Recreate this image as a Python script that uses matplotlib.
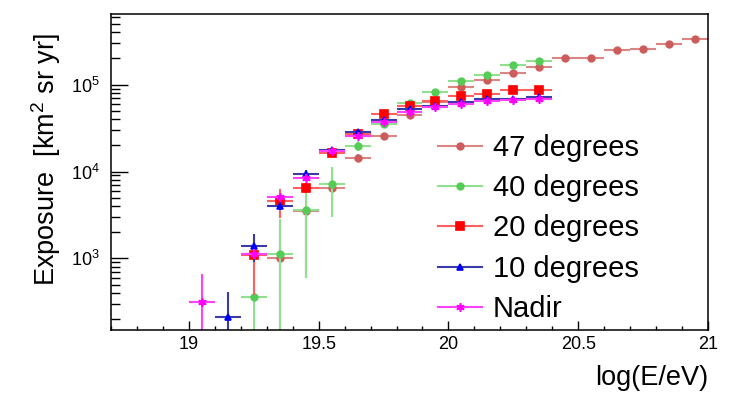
import matplotlib
matplotlib.use("Agg")
import matplotlib.pyplot as plt
import numpy as np
from matplotlib.lines import Line2D
from matplotlib.ticker import MultipleLocator, LogLocator, NullFormatter

plt.rcParams['font.family'] = ['Liberation Sans', 'DejaVu Sans']
plt.rcParams['mathtext.fontset'] = 'custom'
plt.rcParams['mathtext.rm'] = 'Liberation Sans'
plt.rcParams['mathtext.it'] = 'Liberation Sans:italic'
plt.rcParams['mathtext.bf'] = 'Liberation Sans:bold'

# bin half-width in log(E/eV)
bin_half = 0.05

# 47 degrees
x47 = [19.35, 19.45, 19.55, 19.65, 19.75, 19.85, 19.95, 20.05, 20.15, 20.25,
       20.35, 20.45, 20.55, 20.65, 20.75, 20.85, 20.95]
y47 = [1000, 3500, 6400, 14300, 25800, 44800, 63000, 94000, 112000, 137000,
       161000, 201000, 201000, 251000, 256000, 294000, 333000]
e47 = [1700, 2900, 800, 1500, 2000, 2500, 3000, 4000, 4000, 5000,
       5000, 5000, 5000, 6000, 6000, 7000, 7000]

# 40 degrees
x40 = [19.25, 19.35, 19.45, 19.55, 19.65, 19.75, 19.85, 19.95, 20.05, 20.15, 20.25, 20.35]
y40 = [361, 1110, 3600, 7180, 19700, 35500, 61600, 82400, 111000, 128000, 167000, 186000]
e40 = [1000, 1720, 3000, 4200, 2600, 2500, 4000, 5000, 8000, 8000, 9000, 10000]

# 20 degrees
x20 = [19.25, 19.35, 19.45, 19.55, 19.65, 19.75, 19.85, 19.95, 20.05, 20.15, 20.25, 20.35]
y20 = [1083, 4580, 6500, 16200, 27200, 45600, 56800, 64400, 73500, 78100, 86900, 86200]
e20 = [700, 1700, 800, 1200, 1500, 2000, 2000, 2500, 2500, 3000, 3000, 3000]

# 10 degrees
x10 = [19.15, 19.25, 19.35, 19.45, 19.55, 19.65, 19.75, 19.85, 19.95, 20.05, 20.15, 20.25, 20.35]
y10 = [212, 1400, 4040, 9290, 17500, 28700, 39200, 52100, 57300, 62700, 69000, 68400, 72100]
e10 = [194, 490, 400, 1000, 1200, 1500, 1800, 2000, 2200, 2500, 2500, 2500, 2500]

# Nadir
xn = [19.05, 19.25, 19.35, 19.45, 19.55, 19.65, 19.75, 19.85, 19.95, 20.05, 20.15, 20.25, 20.35]
yn = [316, 1130, 5120, 8500, 17000, 25700, 36900, 48900, 55400, 59400, 65500, 66600, 67900]
en = [340, 150, 600, 800, 1200, 1500, 1800, 2000, 2200, 2500, 2500, 2500, 2500]

series = [
    ("47 degrees", x47, y47, e47, '#cd5c5c', '#dc8585', 'o', 4.8),
    ("40 degrees", x40, y40, e40, '#55cc55', '#8fe08f', 'o', 4.8),
    ("20 degrees", x20, y20, e20, '#ff0000', '#ff6060', 's', 5.2),
    ("10 degrees", x10, y10, e10, '#0000ff', '#3a3aa8', '^', 4.8),
    ("Nadir", xn, yn, en, '#ff00ff', '#ff40ff', (6, 2, 0), 6.0),
]

fig = plt.figure(figsize=(7.47, 3.96), dpi=100)
ax = fig.add_axes([111/747, 1-330/396, (708-111)/747, (330-14)/396])

handles = []
for label, xs, ys, es, mcol, ecol, mk, ms in series:
    xs = np.array(xs)
    ys = np.array(ys, dtype=float)
    es = np.array(es, dtype=float)
    lo = np.minimum(es, ys - 1.0)
    ax.errorbar(xs, ys, xerr=bin_half, yerr=[lo, es], fmt='none',
                ecolor=ecol, elinewidth=1.5, capsize=0)
    ax.plot(xs, ys, linestyle='none', marker=mk, color=mcol, markersize=ms,
            markeredgecolor=mcol, markeredgewidth=1.2)
    handles.append(Line2D([], [], color=ecol, lw=1.5, marker=mk, markersize=ms,
                          markerfacecolor=mcol, markeredgecolor=mcol,
                          markeredgewidth=1.2, label=label))

ax.set_xlim(18.7, 21.0)
ax.set_yscale('log')
ax.set_ylim(150, 6.5e5)

ax.xaxis.set_major_locator(MultipleLocator(0.5))
ax.xaxis.set_minor_locator(MultipleLocator(0.1))
ax.yaxis.set_major_locator(LogLocator(base=10))
ax.yaxis.set_minor_locator(LogLocator(base=10, subs=np.arange(2, 10)))
ax.yaxis.set_minor_formatter(NullFormatter())
ax.xaxis.set_major_formatter(matplotlib.ticker.FuncFormatter(lambda v, p: f"{v:g}"))

ax.tick_params(axis='x', which='major', direction='in', length=6.7, width=1.0,
               labelsize=13, pad=4, top=False)
ax.tick_params(axis='x', which='minor', direction='in', length=3.0, width=1.0, top=False)
ax.tick_params(axis='y', which='major', direction='in', length=12, width=1.0,
               labelsize=13, pad=8, right=False)
ax.tick_params(axis='y', which='minor', direction='in', length=6.2, width=1.0, right=False)
for sp in ax.spines.values():
    sp.set_linewidth(1.1)

fig.text(708/747, 1-378/396, 'log(E/eV)', ha='right', va='center', fontsize=19.5)
fig.text(46/747, 1-33/396, 'Exposure  [km$^2$ sr yr]', rotation=90,
         ha='center', va='top', fontsize=19.5)

ax.legend(handles=handles, loc='upper left', bbox_to_anchor=(438/747, 1-134/396),
          bbox_transform=fig.transFigure, frameon=False, fontsize=21,
          handlelength=1.5, handletextpad=0.38, labelspacing=0.42, borderpad=0,
          borderaxespad=0, numpoints=1)

fig.savefig('out.png', dpi=100)
